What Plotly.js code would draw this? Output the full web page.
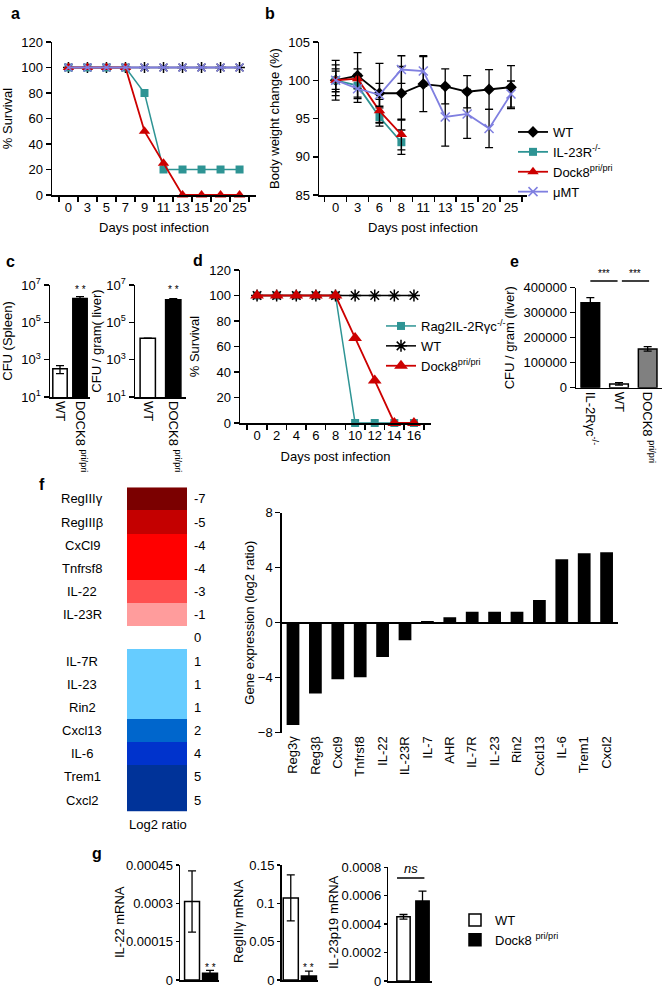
<!DOCTYPE html>
<html>
<head>
<meta charset="utf-8">
<script src="https://cdn.plot.ly/plotly-3.0.1.min.js"></script>
<style>
  body { margin: 0; background: #fff; }
  #fig { width: 666px; height: 993px; }
</style>
</head>
<body>
<div id="fig"></div>
<script>
// --- panel a: survival
const daysA = ['0', '3', '5', '7', '9', '11', '13', '15', '20', '25']
const survA_WT = [100, 100, 100, 100, 100, 100, 100, 100, 100, 100]
const survA_IL23R = [100, 100, 100, 100, 80, 20, 20, 20, 20, 20]
const survA_Dock8 = [100, 100, 100, 100, 50, 25, 0, 0, 0, 0]
const survA_muMT = [100, 100, 100, 100, 100, 100, 100, 100, 100, 100]

// --- panel b: body weight
const daysB = ['0', '3', '6', '8', '11', '13', '15', '20', '25']
const bw_WT = [100, 100.6, 98.3, 98.3, 99.5, 99.2, 98.5, 98.8, 99.1]
const bw_WT_err = [2.6, 3.0, 3.9, 3.5, 3.6, 2.3, 2.1, 2.6, 2.8]
const bw_IL23R = [100, 99.3, 95.2, 91.9]
const bw_IL23R_err = [1.2, 1.5, 1.2, 1.6]
const bw_Dock8 = [100, 100.2, 96.0, 92.9]
const bw_Dock8_err = [1.5, 1.3, 1.5, 2.0]
const bw_muMT = [100, 98.9, 98.1, 101.4, 101.2, 95.2, 95.6, 93.7, 98.2]
const bw_muMT_err = [2.0, 1.8, 1.5, 1.8, 2.0, 3.8, 3.2, 2.5, 1.7]

// --- panel c: CFU
const cGroups = ['WT', 'DOCK8 <sup>pri/pri</sup>']
const cfuSpleen = [330, 1900000]
const cfuSpleenErr = [150, 500000]
const cfuLiver = [14000, 1600000]
const cfuLiverErr = [0, 250000]

// --- panel d: survival
const daysD = ['0', '2', '4', '6', '8', '10', '12', '14', '16']
const survD_Rag = [100, 100, 100, 100, 100, 0, 0, 0, 0]
const survD_WT = [100, 100, 100, 100, 100, 100, 100, 100, 100]
const survD_Dock8 = [100, 100, 100, 100, 100, 66.7, 33.3, 0, 0]

// --- panel e: CFU liver
const eGroups = ['IL-2R\u03b3c<sup>-/-</sup>', 'WT', 'DOCK8 <sup>pri/pri</sup>']
const eVals = [340000, 15000, 155000]
const eErr = [20000, 5000, 9000]

// --- panel f: heatmap + bar
const heatGenes = ['RegIII\u03b3', 'RegIII\u03b2', 'CxCl9', 'Tnfrsf8', 'IL-22', 'IL-23R', '', 'IL-7R', 'IL-23', 'Rin2', 'Cxcl13', 'IL-6', 'Trem1', 'Cxcl2']
const heatLog2 = [-7, -5, -4, -4, -3, -1, 0, 1, 1, 1, 2, 4, 5, 5]
const barGenes = ['Reg3\u03b3', 'Reg3\u03b2', 'Cxcl9', 'Tnfrsf8', 'IL-22', 'IL-23R', 'IL-7', 'AHR', 'IL-7R', 'IL-23', 'Rin2', 'Cxcl13', 'IL-6', 'Trem1', 'Cxcl2']
const barLog2 = [-7.44, -5.14, -4.12, -3.97, -2.49, -1.28, 0.12, 0.39, 0.8, 0.8, 0.8, 1.65, 4.61, 5.05, 5.12]

// --- panel g: mRNA
const gGroups = ['WT', 'Dock8']
const il22 = [0.000307, 0.000026]
const il22Err = [0.00012, 0.000012]
const reg3g = [0.107, 0.0052]
const reg3gErr = [0.03, 0.0065]
const il23p19 = [0.000452, 0.000563]
const il23p19Err = [0.000016, 0.00007]

const W = 666, H = 993
const FONT = 'Liberation Sans, Arial, sans-serif'
const teal = '#2e9494', red = '#cc0000', lilac = '#7f7fe0'
const dom = (a, b) => [a / W, b / W]
const vdom = (top, bot) => [1 - bot / H, 1 - top / H]
const py = v => 1 - v / H

function ax (extra) {
  return Object.assign({
    showgrid: false, zeroline: false, showline: true, linecolor: '#000', linewidth: 1.5,
    ticks: 'outside', ticklen: 5, tickwidth: 1.5, tickcolor: '#000',
    tickfont: { size: 13, color: '#000' }, fixedrange: true
  }, extra)
}
function ttl (text, standoff) {
  return { text: text, font: { size: 13, color: '#000' }, standoff: standoff }
}
function errs (arr) {
  return { type: 'data', array: arr, visible: true, color: '#000', thickness: 1.3, width: 4 }
}

const data = []

// a
data.push({ x: daysA, y: survA_WT, xaxis: 'x', yaxis: 'y', mode: 'lines+markers', showlegend: false, cliponaxis: false,
  line: { color: '#000', width: 1.5 }, marker: { symbol: 'asterisk-open', size: 9, line: { color: '#000', width: 1.5 } } })
data.push({ x: daysA, y: survA_IL23R, xaxis: 'x', yaxis: 'y', mode: 'lines+markers', showlegend: false, cliponaxis: false,
  line: { color: teal, width: 1.5 }, marker: { symbol: 'square', size: 8, color: teal } })
data.push({ x: daysA, y: survA_Dock8, xaxis: 'x', yaxis: 'y', mode: 'lines+markers', showlegend: false, cliponaxis: false,
  line: { color: red, width: 1.8 }, marker: { symbol: 'triangle-up', size: 10, color: red } })
data.push({ x: daysA, y: survA_muMT, xaxis: 'x', yaxis: 'y', mode: 'lines+markers', showlegend: false, cliponaxis: false,
  line: { color: lilac, width: 1.8 }, marker: { symbol: 'x-thin-open', size: 8, line: { color: lilac, width: 1.5 } } })

// b
data.push({ x: daysB, y: bw_WT, error_y: errs(bw_WT_err), xaxis: 'x2', yaxis: 'y2', mode: 'lines+markers', name: 'WT', legend: 'legend',
  line: { color: '#000', width: 1.8 }, marker: { symbol: 'diamond', size: 9, color: '#000' } })
data.push({ x: daysB.slice(0, 4), y: bw_IL23R, error_y: errs(bw_IL23R_err), xaxis: 'x2', yaxis: 'y2', mode: 'lines+markers', name: 'IL-23R<sup>-/-</sup>', legend: 'legend',
  line: { color: teal, width: 1.8 }, marker: { symbol: 'square', size: 8, color: teal } })
data.push({ x: daysB.slice(0, 4), y: bw_Dock8, error_y: errs(bw_Dock8_err), xaxis: 'x2', yaxis: 'y2', mode: 'lines+markers', name: 'Dock8<sup>pri/pri</sup>', legend: 'legend',
  line: { color: red, width: 1.8 }, marker: { symbol: 'triangle-up', size: 10, color: red } })
data.push({ x: daysB, y: bw_muMT, error_y: errs(bw_muMT_err), xaxis: 'x2', yaxis: 'y2', mode: 'lines+markers', name: '\u03bcMT', legend: 'legend',
  line: { color: lilac, width: 1.8 }, marker: { symbol: 'x-thin-open', size: 9, line: { color: lilac, width: 1.5 } } })

// c
data.push({ type: 'bar', x: cGroups, y: cfuSpleen, error_y: errs(cfuSpleenErr), xaxis: 'x3', yaxis: 'y3', showlegend: false,
  marker: { color: ['#fff', '#000'], line: { color: '#000', width: 1.5 } } })
data.push({ type: 'bar', x: cGroups, y: cfuLiver, error_y: errs(cfuLiverErr), xaxis: 'x4', yaxis: 'y4', showlegend: false,
  marker: { color: ['#fff', '#000'], line: { color: '#000', width: 1.5 } } })

// d
data.push({ x: daysD, y: survD_Rag, xaxis: 'x5', yaxis: 'y5', mode: 'lines+markers', name: 'Rag2IL-2R\u03b3c<sup>-/-</sup>', legend: 'legend2', cliponaxis: false,
  line: { color: teal, width: 1.5 }, marker: { symbol: 'square', size: 8, color: teal } })
data.push({ x: daysD, y: survD_WT, xaxis: 'x5', yaxis: 'y5', mode: 'lines+markers', name: 'WT', legend: 'legend2', cliponaxis: false,
  line: { color: '#000', width: 1.5 }, marker: { symbol: 'asterisk-open', size: 10, line: { color: '#000', width: 1.5 } } })
data.push({ x: daysD, y: survD_Dock8, xaxis: 'x5', yaxis: 'y5', mode: 'lines+markers', name: 'Dock8<sup>pri/pri</sup>', legend: 'legend2', cliponaxis: false,
  line: { color: red, width: 1.8 }, marker: { symbol: 'triangle-up', size: 12, color: red } })

// e
data.push({ type: 'bar', x: eGroups, y: eVals, error_y: errs(eErr), xaxis: 'x6', yaxis: 'y6', showlegend: false,
  marker: { color: ['#000', '#fff', '#808080'], line: { color: '#000', width: 1.5 } } })

// f heatmap
const heatScale = [[0, '#7b0000'], [2 / 12, '#c40000'], [3 / 12, '#ff0000'], [4 / 12, '#ff5050'], [6 / 12, '#ff9c9c'],
  [8 / 12, '#66ccff'], [9 / 12, '#0066cc'], [11 / 12, '#0033cc'], [1, '#003399']]
data.push({ type: 'heatmap', z: heatLog2.map(v => [v === 0 ? null : v]), x: [0], y: heatGenes.map((g, i) => i),
  xaxis: 'x7', yaxis: 'y7', colorscale: heatScale, zmin: -7, zmax: 5, showscale: false, hoverongaps: false })

// f bars
data.push({ type: 'bar', x: barGenes, y: barLog2, xaxis: 'x8', yaxis: 'y8', showlegend: false, marker: { color: '#000' } })

// g
const gLeg = ['WT', 'Dock8 <sup>pri/pri</sup>']
const gSets = [[il22, il22Err, 'x9', 'y9'], [reg3g, reg3gErr, 'x10', 'y10'], [il23p19, il23p19Err, 'x11', 'y11']]
gSets.forEach((s, k) => {
  gGroups.forEach((grp, i) => {
    data.push({ type: 'bar', x: [grp], y: [s[0][i]], error_y: errs([s[1][i]]), xaxis: s[2], yaxis: s[3],
      name: gLeg[i], legend: 'legend3', showlegend: k === 2,
      marker: { color: i === 0 ? '#fff' : '#000', line: { color: '#000', width: 1.5 } } })
  })
})

const annotations = []
const letters = [['a', 15, 13], ['b', 270, 13], ['c', 10, 262], ['d', 198, 261], ['e', 514, 262], ['f', 42, 484], ['g', 97, 853]]
letters.forEach(l => annotations.push({ xref: 'paper', yref: 'paper', x: l[1] / W, y: py(l[2]), text: '<b>' + l[0] + '</b>',
  xanchor: 'center', yanchor: 'middle', showarrow: false, font: { size: 16, color: '#000' } }))

// heatmap labels
heatGenes.forEach((g, i) => {
  annotations.push({ xref: 'paper', yref: 'y7', x: 82 / W, y: i, text: g, xanchor: 'center', yanchor: 'middle', showarrow: false, font: { size: 13, color: '#000' } })
  annotations.push({ xref: 'paper', yref: 'y7', x: 192 / W, y: i, text: String(heatLog2[i]), xanchor: 'left', yanchor: 'middle', showarrow: false, font: { size: 13, color: '#000' } })
})
annotations.push({ xref: 'paper', yref: 'paper', x: 158 / W, y: py(824), text: 'Log2 ratio', xanchor: 'center', yanchor: 'middle', showarrow: false, font: { size: 13, color: '#000' } })

// g y titles
const gTitles = [['IL-22 mRNA', 119], ['RegIII\u03b3 mRNA', 238], ['IL-23p19 mRNA', 333]]
gTitles.forEach(t => annotations.push({ xref: 'paper', yref: 'paper', x: t[1] / W, y: py(922), text: t[0], textangle: -90,
  xanchor: 'center', yanchor: 'middle', showarrow: false, font: { size: 13, color: '#000' } }))

// significance marks
const star = (xr, x, yPix, t) => annotations.push({ xref: xr, yref: 'paper', x: x, y: py(yPix), text: t, showarrow: false,
  xanchor: 'center', yanchor: 'middle', font: { size: 10, color: '#000' } })
star('x3', 1, 289, '* *')
star('x4', 1, 289, '* *')
star('x6', 0.48, 273, '***')
star('x6', 1.57, 273, '***')
star('x9', 1, 967, '* *')
star('x10', 1, 967, '* *')
annotations.push({ xref: 'x11', yref: 'paper', x: 0.38, y: py(868), text: '<i>ns</i>', xanchor: 'center', yanchor: 'middle', showarrow: false, font: { size: 13, color: '#000' } })

const shapes = [
  { type: 'line', xref: 'x6', yref: 'paper', x0: 0, x1: 0.95, y0: py(281), y1: py(281), line: { color: '#000', width: 1.5 } },
  { type: 'line', xref: 'x6', yref: 'paper', x0: 1.1, x1: 2.05, y0: py(281), y1: py(281), line: { color: '#000', width: 1.5 } },
  { type: 'line', xref: 'x11', yref: 'paper', x0: -0.34, x1: 1.1, y0: py(878), y1: py(878), line: { color: '#000', width: 1.5 } }
]

const legBase = { bgcolor: 'rgba(0,0,0,0)', font: { size: 13, color: '#000' }, xanchor: 'left', yanchor: 'top', tracegroupgap: 0, itemwidth: 30 }
const gTick = { size: 13, color: '#000' }

const layout = {
  width: W, height: H,
  margin: { l: 0, r: 0, t: 0, b: 0 },
  paper_bgcolor: '#fff', plot_bgcolor: 'rgba(0,0,0,0)',
  font: { family: FONT, color: '#000', size: 12 },
  barmode: 'overlay',
  annotations: annotations,
  shapes: shapes,
  legend: Object.assign({}, legBase, { x: 513 / W, y: py(117) }),
  legend2: Object.assign({}, legBase, { x: 381 / W, y: py(311) }),
  legend3: Object.assign({}, legBase, { x: 455 / W, y: py(905) }),

  xaxis: ax({ domain: dom(52, 256), anchor: 'y', type: 'category', tickson: 'boundaries', tickangle: 0, title: ttl('Days post infection', 9) }),
  yaxis: ax({ domain: vdom(42, 195), anchor: 'x', range: [0, 120], dtick: 20, title: ttl('% Survival', 6) }),

  xaxis2: ax({ domain: dom(319, 527), anchor: 'y2', type: 'category', tickson: 'boundaries', tickangle: 0, title: ttl('Days post infection', 9) }),
  yaxis2: ax({ domain: vdom(42, 195), anchor: 'x2', range: [85, 105], dtick: 5, title: ttl('Body weight change (%)', 5) }),

  xaxis3: ax({ domain: dom(50, 90), anchor: 'y3', type: 'category', ticks: '', tickangle: 90 }),
  yaxis3: ax({ domain: vdom(285, 397), anchor: 'x3', type: 'log', range: [1, 7], tickvals: [10, 1000, 100000, 10000000],
    ticktext: ['10<sup>1</sup>', '10<sup>3</sup>', '10<sup>5</sup>', '10<sup>7</sup>'], title: ttl('CFU (Spleen)', 6) }),

  xaxis4: ax({ domain: dom(135, 186), anchor: 'y4', type: 'category', ticks: '', tickangle: 90 }),
  yaxis4: ax({ domain: vdom(285, 397), anchor: 'x4', type: 'log', range: [1, 7], tickvals: [10, 1000, 100000, 10000000],
    ticktext: ['10<sup>1</sup>', '10<sup>3</sup>', '10<sup>5</sup>', '10<sup>7</sup>'], title: ttl('CFU / gram( liver)', 2) }),

  xaxis5: ax({ domain: dom(240, 431), anchor: 'y5', type: 'category', tickson: 'boundaries', tickangle: 0, title: ttl('Days post infection', 10) }),
  yaxis5: ax({ domain: vdom(270, 423), anchor: 'x5', range: [0, 120], dtick: 20, title: ttl('% Survival', 6) }),

  xaxis6: ax({ domain: dom(576, 662), anchor: 'y6', type: 'category', ticks: '', tickangle: 90 }),
  yaxis6: ax({ domain: vdom(287.7, 387.7), anchor: 'x6', range: [0, 400000], dtick: 100000, tickformat: 'd', title: ttl('CFU / gram (liver)', 6) }),

  xaxis7: { domain: dom(127, 187), anchor: 'y7', visible: false, fixedrange: true },
  yaxis7: { domain: vdom(487.3, 811.7), anchor: 'x7', visible: false, range: [13.5, -0.5], fixedrange: true },

  xaxis8: ax({ domain: dom(281.8, 617.8), anchor: 'y8', type: 'category', showline: false, ticks: '', tickangle: -90 }),
  yaxis8: ax({ domain: vdom(512.7, 732.7), anchor: 'x8', range: [-8, 8], tickvals: [-8, -4, 0, 4, 8], zeroline: true, zerolinecolor: '#000', zerolinewidth: 2,
    title: ttl('Gene expression (log2 ratio)', 0) }),

  xaxis9: ax({ domain: dom(180, 219), anchor: 'y9', type: 'category', ticks: '', showticklabels: false, range: [-0.67, 1.5] }),
  yaxis9: ax({ domain: vdom(865, 980), anchor: 'x9', range: [0, 0.00045], tickvals: [0, 0.00015, 0.0003, 0.00045], ticklen: 3,
    ticktext: ['0', '0.00015', '0.0003', '0.00045'], tickfont: gTick }),

  xaxis10: ax({ domain: dom(281.7, 318), anchor: 'y10', type: 'category', ticks: '', showticklabels: false, range: [-0.5, 1.5] }),
  yaxis10: ax({ domain: vdom(865, 980), anchor: 'x10', range: [0, 0.15], tickvals: [0, 0.05, 0.1, 0.15], ticklen: 3,
    ticktext: ['0', '0.05', '0.1', '0.15'], tickfont: gTick }),

  xaxis11: ax({ domain: dom(388.3, 432), anchor: 'y11', type: 'category', ticks: '', showticklabels: false, range: [-0.8, 1.5] }),
  yaxis11: ax({ domain: vdom(867.3, 981), anchor: 'x11', range: [0, 0.0008], tickvals: [0, 0.0002, 0.0004, 0.0006, 0.0008], ticklen: 3,
    ticktext: ['0', '0.0002', '0.0004', '0.0006', '0.0008'], tickfont: gTick })
}

// bar widths per panel
data.forEach(t => {
  if (t.type !== 'bar') return
  if (t.xaxis === 'x3') t.width = 0.72
  if (t.xaxis === 'x4') t.width = 0.6
  if (t.xaxis === 'x6') t.width = 0.65
  if (t.xaxis === 'x8') t.width = 0.57
  if (t.xaxis === 'x9') t.width = 0.83
  if (t.xaxis === 'x10') t.width = 0.83
  if (t.xaxis === 'x11') t.width = 0.7
})

Plotly.newPlot('fig', data, layout, { staticPlot: true })
</script>
</body>
</html>
